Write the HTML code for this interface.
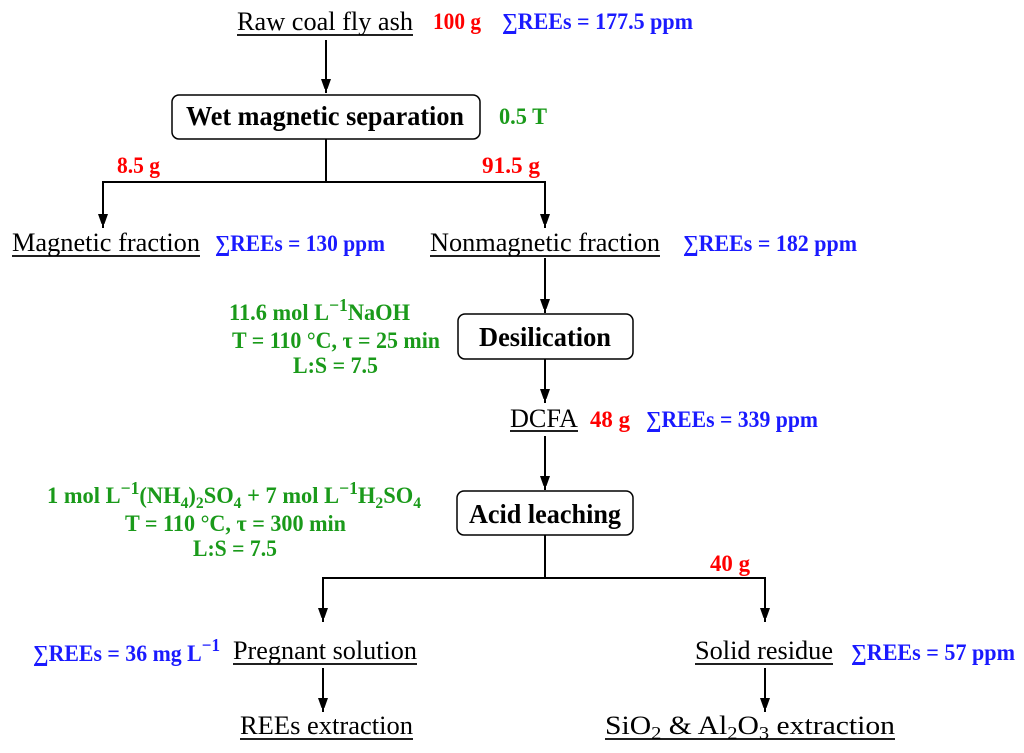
<!DOCTYPE html>
<html><head><meta charset="utf-8"><style>
html,body{margin:0;padding:0;background:#fff;}
svg{display:block;}
text{font-family:"Liberation Serif","Times New Roman",serif;}
.b{font-weight:bold;}
.r{fill:#ff0000;font-weight:bold;}
.bl{fill:#1a1aff;font-weight:bold;}
.g{fill:#1a9a1a;font-weight:bold;}
</style></head><body>
<svg width="1024" height="753" viewBox="0 0 1024 753" xmlns="http://www.w3.org/2000/svg">
<defs>
<marker id="d" markerWidth="10" markerHeight="14" refX="14" refY="5" orient="auto" markerUnits="userSpaceOnUse"><path d="M0,0 L14,5 L0,10 Z" fill="#000"/></marker></defs>
<g stroke="#000" stroke-width="2" fill="none">
<line x1="326" y1="40" x2="326" y2="93" marker-end="url(#d)"/>
<rect x="172" y="95" width="308" height="44" rx="7" stroke-width="1.5"/>
<polyline points="326,139 326,182"/>
<polyline points="103,182 545,182"/>
<line x1="103" y1="181" x2="103" y2="228" marker-end="url(#d)"/>
<line x1="545" y1="181" x2="545" y2="228" marker-end="url(#d)"/>
<line x1="545" y1="258" x2="545" y2="313" marker-end="url(#d)"/>
<rect x="458" y="314" width="175" height="45" rx="7" stroke-width="1.5"/>
<line x1="545" y1="359" x2="545" y2="403" marker-end="url(#d)"/>
<line x1="545" y1="436" x2="545" y2="490" marker-end="url(#d)"/>
<rect x="457" y="491" width="176" height="44" rx="7" stroke-width="1.5"/>
<polyline points="545,535 545,578"/>
<polyline points="323,578 765,578"/>
<line x1="323" y1="577" x2="323" y2="622" marker-end="url(#d)"/>
<line x1="765" y1="577" x2="765" y2="622" marker-end="url(#d)"/>
<line x1="323" y1="668" x2="323" y2="712" marker-end="url(#d)"/>
<line x1="765" y1="668" x2="765" y2="712" marker-end="url(#d)"/>
</g>
<g stroke="#000" stroke-width="1.8">
<line x1="237" y1="35" x2="413" y2="35"/>
<line x1="12" y1="256" x2="200" y2="256"/>
<line x1="430" y1="256" x2="660" y2="256"/>
<line x1="510" y1="431" x2="578" y2="431"/>
<line x1="233" y1="664" x2="417" y2="664"/>
<line x1="695" y1="664" x2="833" y2="664"/>
<line x1="240" y1="739" x2="413" y2="739"/>
<line x1="605" y1="739" x2="895" y2="739"/>
</g>
<text x="237" y="30" font-size="26" textLength="176" lengthAdjust="spacingAndGlyphs">Raw coal fly ash</text>
<text class="r" x="433" y="29" font-size="23" textLength="48" lengthAdjust="spacingAndGlyphs">100 g</text>
<text class="bl" x="502" y="29" font-size="23" textLength="191" lengthAdjust="spacingAndGlyphs">∑REEs = 177.5 ppm</text>
<text class="b" x="186" y="125" font-size="27" textLength="278" lengthAdjust="spacingAndGlyphs">Wet magnetic separation</text>
<text class="g" x="499" y="124" font-size="23" textLength="48" lengthAdjust="spacingAndGlyphs">0.5 T</text>
<text class="r" x="117" y="173" font-size="23" textLength="43" lengthAdjust="spacingAndGlyphs">8.5 g</text>
<text class="r" x="482" y="173" font-size="23" textLength="58" lengthAdjust="spacingAndGlyphs">91.5 g</text>
<text x="12" y="251" font-size="26" textLength="188" lengthAdjust="spacingAndGlyphs">Magnetic fraction</text>
<text class="bl" x="215" y="251" font-size="23" textLength="170" lengthAdjust="spacingAndGlyphs">∑REEs = 130 ppm</text>
<text x="430" y="251" font-size="26" textLength="230" lengthAdjust="spacingAndGlyphs">Nonmagnetic fraction</text>
<text class="bl" x="683" y="251" font-size="23" textLength="174" lengthAdjust="spacingAndGlyphs">∑REEs = 182 ppm</text>
<text class="g" x="229" y="320" font-size="23" textLength="181" lengthAdjust="spacingAndGlyphs">11.6 mol L<tspan dy="-9" font-size="18">−1</tspan><tspan dy="9">NaOH</tspan></text>
<text class="g" x="232" y="348" font-size="23" textLength="208" lengthAdjust="spacingAndGlyphs">T = 110 °C, τ = 25 min</text>
<text class="g" x="293" y="373" font-size="23" textLength="85" lengthAdjust="spacingAndGlyphs">L:S = 7.5</text>
<text class="b" x="479" y="346" font-size="27" textLength="132" lengthAdjust="spacingAndGlyphs">Desilication</text>
<text x="510" y="427" font-size="26" textLength="68" lengthAdjust="spacingAndGlyphs">DCFA</text>
<text class="r" x="590" y="427" font-size="23" textLength="40" lengthAdjust="spacingAndGlyphs">48 g</text>
<text class="bl" x="646" y="427" font-size="23" textLength="172" lengthAdjust="spacingAndGlyphs">∑REEs = 339 ppm</text>
<text class="g" x="47" y="503" font-size="23" textLength="374" lengthAdjust="spacingAndGlyphs">1 mol L<tspan dy="-9" font-size="18">−1</tspan><tspan dy="9">(NH</tspan><tspan dy="5" font-size="16">4</tspan><tspan dy="-5">)</tspan><tspan dy="5" font-size="16">2</tspan><tspan dy="-5">SO</tspan><tspan dy="5" font-size="16">4</tspan><tspan dy="-5"> + 7 mol L</tspan><tspan dy="-9" font-size="18">−1</tspan><tspan dy="9">H</tspan><tspan dy="5" font-size="16">2</tspan><tspan dy="-5">SO</tspan><tspan dy="5" font-size="16">4</tspan></text>
<text class="g" x="125" y="531" font-size="23" textLength="221" lengthAdjust="spacingAndGlyphs">T = 110 °C, τ = 300 min</text>
<text class="g" x="193" y="556" font-size="23" textLength="84" lengthAdjust="spacingAndGlyphs">L:S = 7.5</text>
<text class="b" x="469" y="523" font-size="27" textLength="152" lengthAdjust="spacingAndGlyphs">Acid leaching</text>
<text class="r" x="710" y="571" font-size="23" textLength="40" lengthAdjust="spacingAndGlyphs">40 g</text>
<text class="bl" x="33" y="661" font-size="23" textLength="187" lengthAdjust="spacingAndGlyphs">∑REEs = 36 mg L<tspan dy="-10" font-size="18">−1</tspan></text>
<text x="233" y="659" font-size="26" textLength="184" lengthAdjust="spacingAndGlyphs">Pregnant solution</text>
<text x="695" y="659" font-size="26" textLength="138" lengthAdjust="spacingAndGlyphs">Solid residue</text>
<text class="bl" x="851" y="660" font-size="23" textLength="164" lengthAdjust="spacingAndGlyphs">∑REEs = 57 ppm</text>
<text x="240" y="734" font-size="26" textLength="173" lengthAdjust="spacingAndGlyphs">REEs extraction</text>
<text x="605" y="734" font-size="26" textLength="290" lengthAdjust="spacingAndGlyphs">SiO<tspan dy="5" font-size="18">2</tspan><tspan dy="-5"> &amp; Al</tspan><tspan dy="5" font-size="18">2</tspan><tspan dy="-5">O</tspan><tspan dy="5" font-size="18">3</tspan><tspan dy="-5"> extraction</tspan></text>
</svg>
</body></html>
